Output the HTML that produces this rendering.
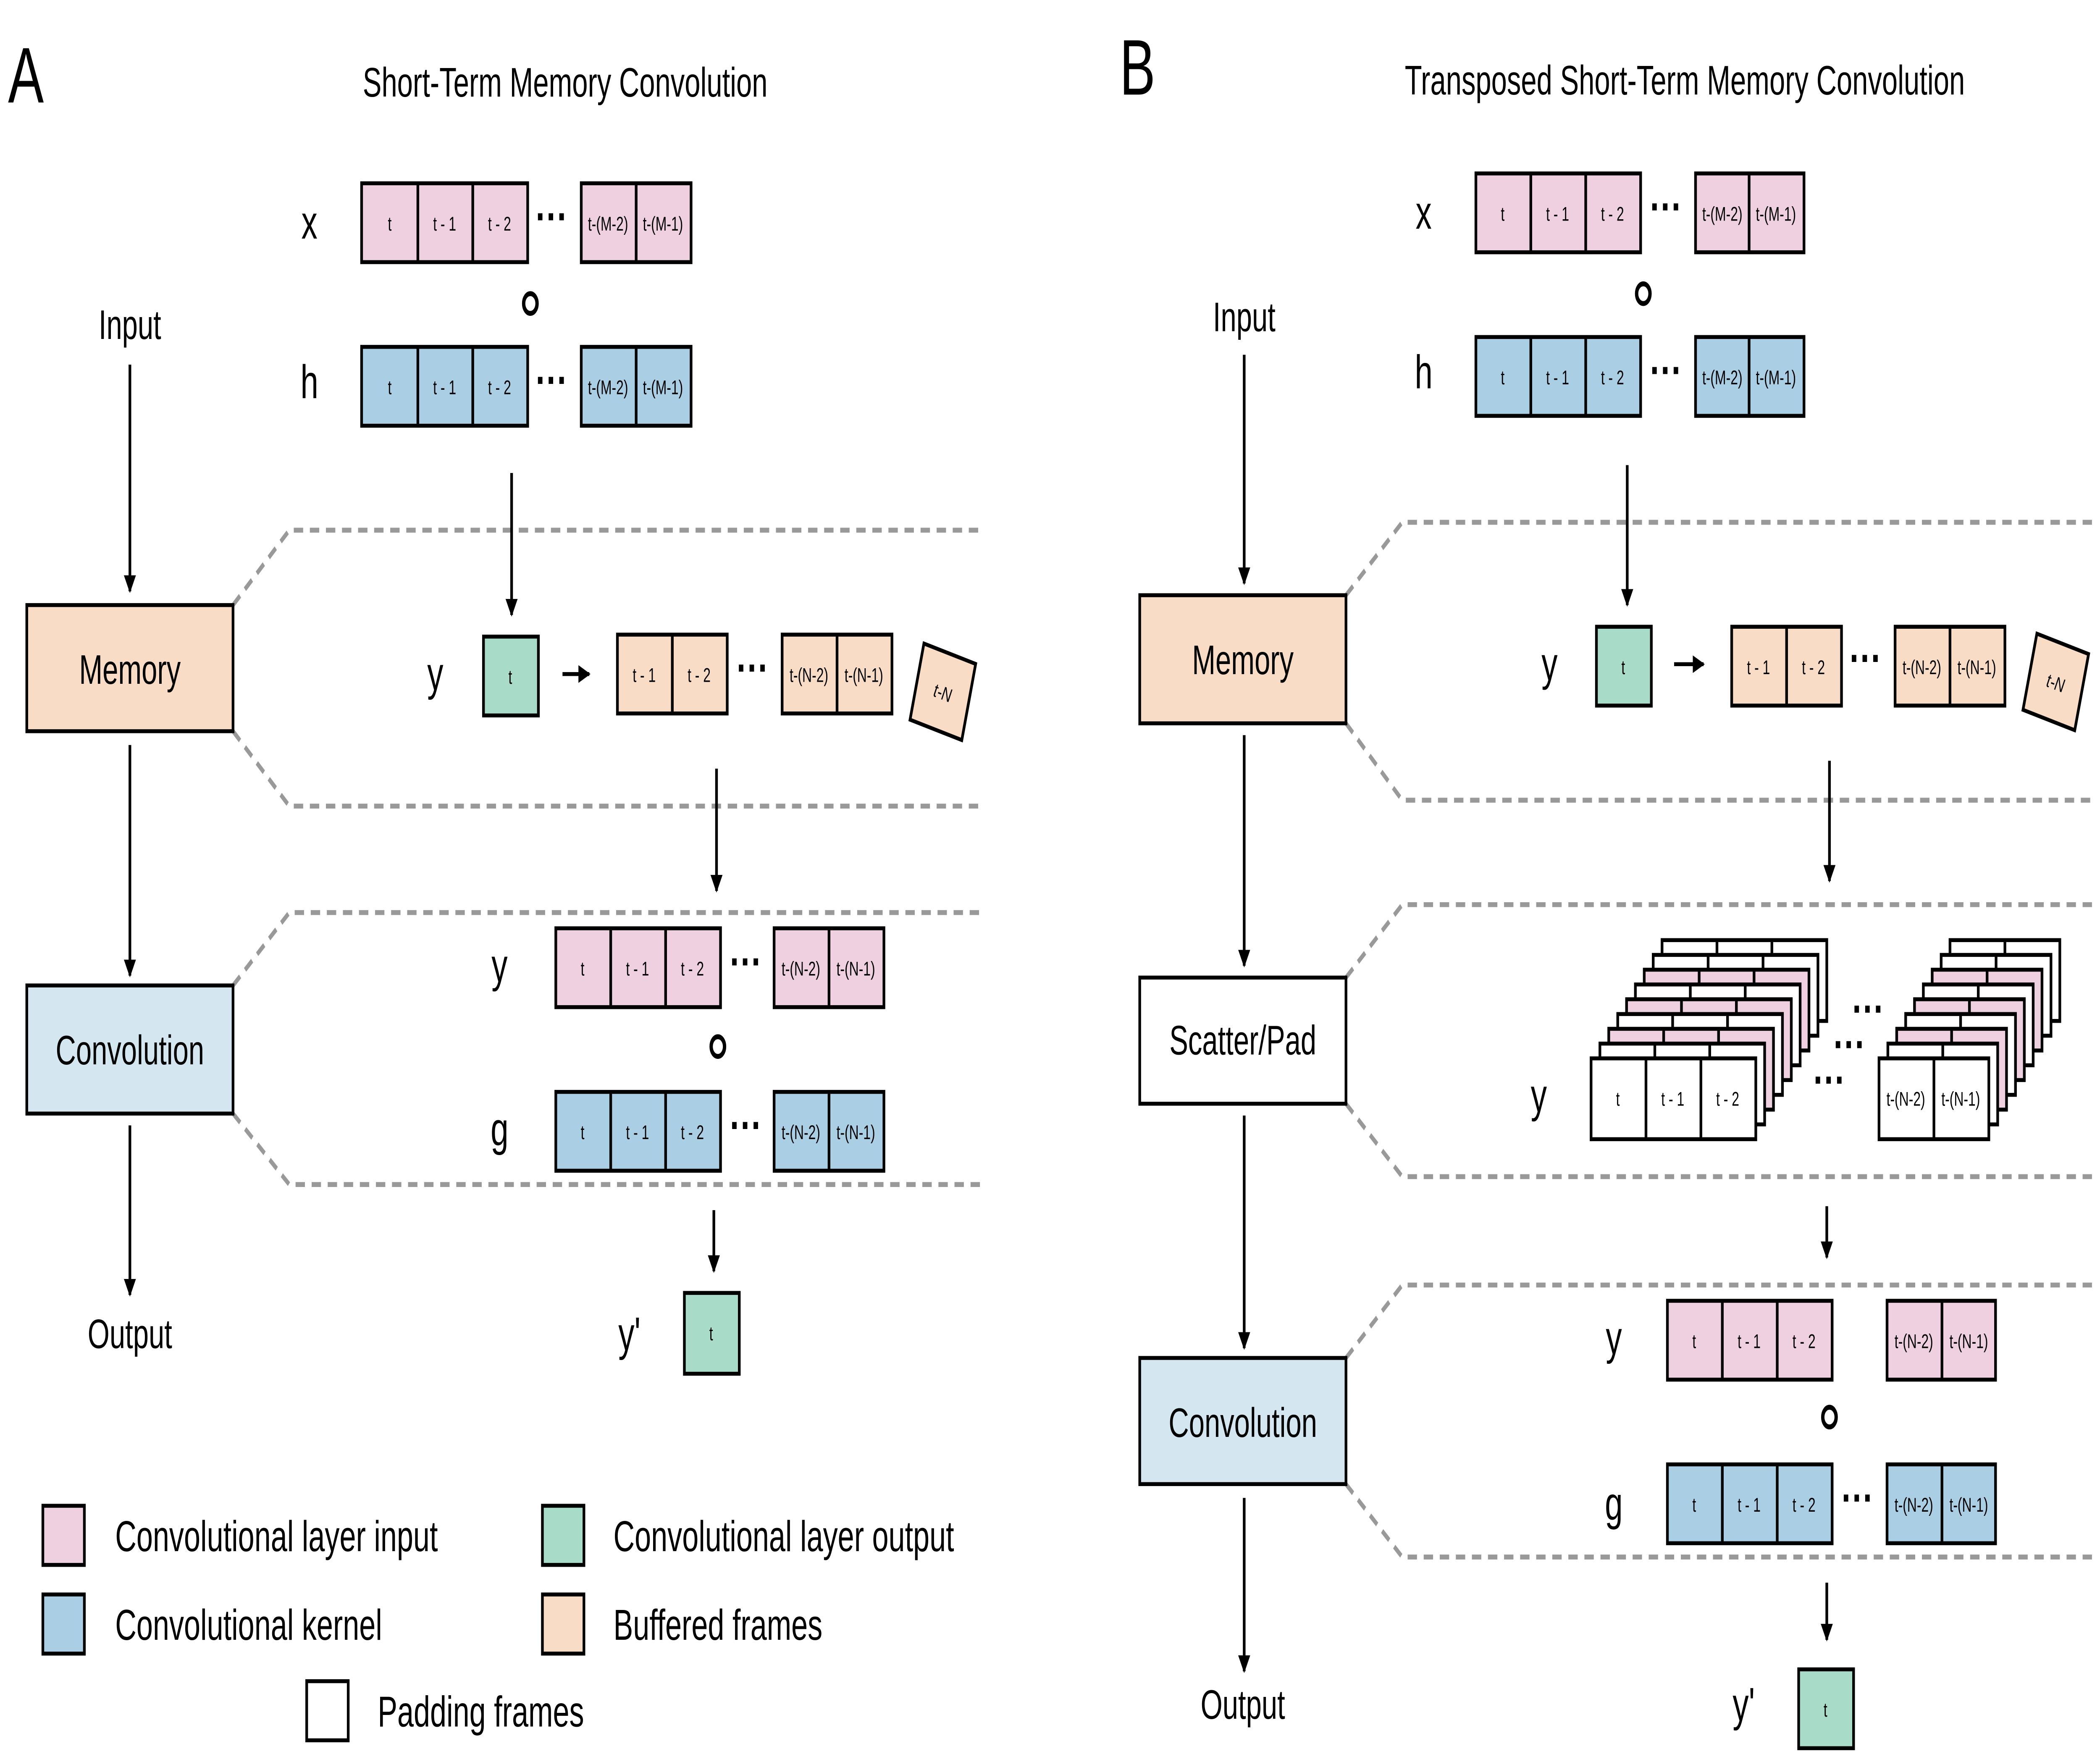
<!DOCTYPE html>
<html><head><meta charset="utf-8"><style>html,body{margin:0;padding:0;background:#fff;overflow:hidden;width:100vw;height:100vh}svg{display:block;width:100vw;height:100vh}</style></head>
<body>
<svg xmlns="http://www.w3.org/2000/svg" viewBox="0 0 1568 894" preserveAspectRatio="none" font-family="Liberation Sans, sans-serif">
<defs>
<marker id="ah" viewBox="0 0 10 10" refX="9" refY="5" markerWidth="4.5" markerHeight="4.5" orient="auto"><path d="M0,0L10,5L0,10z" fill="#000"/></marker>
<g id="L3w"><rect x="0" y="0" width="123" height="41" fill="#fff" stroke="#000" stroke-width="2"/><line x1="41" y1="0" x2="41" y2="41" stroke="#000" stroke-width="2"/><line x1="82" y1="0" x2="82" y2="41" stroke="#000" stroke-width="2"/></g>
<g id="L3p"><rect x="0" y="0" width="123" height="41" fill="#efd0e0" stroke="#000" stroke-width="2"/><line x1="41" y1="0" x2="41" y2="41" stroke="#000" stroke-width="2"/><line x1="82" y1="0" x2="82" y2="41" stroke="#000" stroke-width="2"/></g>
<g id="L2w"><rect x="0" y="0" width="82" height="41" fill="#fff" stroke="#000" stroke-width="2"/><line x1="41" y1="0" x2="41" y2="41" stroke="#000" stroke-width="2"/></g>
<g id="L2p"><rect x="0" y="0" width="82" height="41" fill="#efd0e0" stroke="#000" stroke-width="2"/><line x1="41" y1="0" x2="41" y2="41" stroke="#000" stroke-width="2"/></g>
</defs>
<rect width="1568" height="894" fill="#fff"/>

<g stroke="#999" stroke-width="2.5" stroke-dasharray="7,5" fill="none">
<polyline points="174,307 216,269 735,269"/><polyline points="174,371 216,409 735,409"/>
<polyline points="174,500 216,463 735,463"/><polyline points="174,565 216,601 735,601"/>
<polyline points="1005,302 1047,265 1562,265"/><polyline points="1005,367 1047,406 1562,406"/>
<polyline points="1005,496 1047,459 1562,459"/><polyline points="1005,560 1047,597 1562,597"/>
<polyline points="1005,689 1047,652 1562,652"/><polyline points="1005,753 1047,790 1562,790"/>
</g>

<g stroke="#000" stroke-width="2" marker-end="url(#ah)">
<line x1="97" y1="185" x2="97" y2="300"/><line x1="97" y1="378" x2="97" y2="495"/><line x1="97" y1="571" x2="97" y2="657"/>
<line x1="382" y1="240" x2="382" y2="312"/><line x1="420" y1="342" x2="440" y2="342"/>
<line x1="535" y1="390" x2="535" y2="452"/><line x1="533" y1="614" x2="533" y2="645"/>
<line x1="929" y1="180" x2="929" y2="296"/><line x1="929" y1="373" x2="929" y2="490"/><line x1="929" y1="566" x2="929" y2="684"/><line x1="929" y1="760" x2="929" y2="848"/>
<line x1="1215" y1="236" x2="1215" y2="307"/><line x1="1250" y1="337" x2="1272" y2="337"/>
<line x1="1366" y1="386" x2="1366" y2="447"/><line x1="1364" y1="612" x2="1364" y2="638"/><line x1="1364" y1="803" x2="1364" y2="832"/>
</g>

<g font-size="40"><text x="6" y="52">A</text><text x="836" y="48">B</text></g>
<g font-size="21" text-anchor="middle">
<text x="422" y="49">Short-Term Memory Convolution</text>
<text x="1258" y="48">Transposed Short-Term Memory Convolution</text>
<text x="97" y="172">Input</text><text x="97" y="684">Output</text>
<text x="929" y="168">Input</text><text x="928" y="872">Output</text>
</g>

<g stroke="#000" stroke-width="2">
<rect x="20" y="307" width="154" height="64" fill="#f8dcc6"/>
<rect x="20" y="500" width="154" height="65" fill="#d4e7f1"/>
<rect x="851" y="302" width="154" height="65" fill="#f8dcc6"/>
<rect x="851" y="496" width="154" height="64" fill="#fff"/>
<rect x="851" y="689" width="154" height="64" fill="#d4e7f1"/>
</g>
<g font-size="21" text-anchor="middle">
<text x="97" y="347">Memory</text><text x="97" y="540">Convolution</text>
<text x="928" y="342">Memory</text><text x="928" y="535">Scatter/Pad</text><text x="928" y="729">Convolution</text>
</g>

<g font-size="24" text-anchor="middle">
<text x="231" y="121">x</text><text x="231" y="202">h</text><text x="325" y="350">y</text>
<text x="373" y="498">y</text><text x="373" y="581">g</text><text x="470" y="685">y'</text>
<text x="1063" y="116">x</text><text x="1063" y="197">h</text><text x="1157" y="345">y</text>
<text x="1149" y="564">y</text><text x="1205" y="687">y</text><text x="1205" y="771">g</text><text x="1302" y="873">y'</text>
</g>

<g stroke="#000" stroke-width="2.5" fill="none">
<circle cx="396" cy="154" r="5"/><circle cx="536" cy="531" r="5"/>
<circle cx="1227" cy="149" r="5"/><circle cx="1366" cy="719" r="5"/>
</g>

<g font-size="24" font-weight="bold" text-anchor="middle">
<text x="412" y="118">···</text><text x="412" y="201">···</text><text x="562" y="347">···</text>
<text x="557" y="496">···</text><text x="557" y="579">···</text>
<text x="1244" y="113">···</text><text x="1244" y="196">···</text><text x="1393" y="342">···</text>
<text x="1387" y="768">···</text>
<text x="1395" y="520">···</text><text x="1381" y="538">···</text><text x="1366" y="556">···</text>
</g>

<g stroke="#000" stroke-width="2">
<rect x="270" y="93" width="124" height="40" fill="#efd0e0"/><line x1="312" y1="93" x2="312" y2="133"/><line x1="353" y1="93" x2="353" y2="133"/>
<rect x="434" y="93" width="82" height="40" fill="#efd0e0"/><line x1="475" y1="93" x2="475" y2="133"/>
<rect x="270" y="176" width="124" height="40" fill="#aacfe5"/><line x1="312" y1="176" x2="312" y2="216"/><line x1="353" y1="176" x2="353" y2="216"/>
<rect x="434" y="176" width="82" height="40" fill="#aacfe5"/><line x1="475" y1="176" x2="475" y2="216"/>
<rect x="361" y="323" width="41" height="40" fill="#a8dcc8"/>
<rect x="461" y="322" width="82" height="40" fill="#f8dcc6"/><line x1="502" y1="322" x2="502" y2="362"/>
<rect x="584" y="322" width="82" height="40" fill="#f8dcc6"/><line x1="625" y1="322" x2="625" y2="362"/>
<rect x="684" y="331" width="40" height="40" fill="#f8dcc6" transform="rotate(15 704 351)"/>
<rect x="415" y="471" width="123" height="40" fill="#efd0e0"/><line x1="456" y1="471" x2="456" y2="511"/><line x1="497" y1="471" x2="497" y2="511"/>
<rect x="578" y="471" width="82" height="40" fill="#efd0e0"/><line x1="619" y1="471" x2="619" y2="511"/>
<rect x="415" y="554" width="123" height="40" fill="#aacfe5"/><line x1="456" y1="554" x2="456" y2="594"/><line x1="497" y1="554" x2="497" y2="594"/>
<rect x="578" y="554" width="82" height="40" fill="#aacfe5"/><line x1="619" y1="554" x2="619" y2="594"/>
<rect x="511" y="656" width="41" height="41" fill="#a8dcc8"/>
<rect x="1102" y="88" width="123" height="40" fill="#efd0e0"/><line x1="1143" y1="88" x2="1143" y2="128"/><line x1="1184" y1="88" x2="1184" y2="128"/>
<rect x="1266" y="88" width="81" height="40" fill="#efd0e0"/><line x1="1306" y1="88" x2="1306" y2="128"/>
<rect x="1102" y="171" width="123" height="40" fill="#aacfe5"/><line x1="1143" y1="171" x2="1143" y2="211"/><line x1="1184" y1="171" x2="1184" y2="211"/>
<rect x="1266" y="171" width="81" height="40" fill="#aacfe5"/><line x1="1306" y1="171" x2="1306" y2="211"/>
<rect x="1192" y="318" width="41" height="40" fill="#a8dcc8"/>
<rect x="1293" y="318" width="82" height="40" fill="#f8dcc6"/><line x1="1334" y1="318" x2="1334" y2="358"/>
<rect x="1415" y="318" width="82" height="40" fill="#f8dcc6"/><line x1="1456" y1="318" x2="1456" y2="358"/>
<rect x="1515" y="326" width="40" height="40" fill="#f8dcc6" transform="rotate(15 1535 346)"/>
<rect x="1245" y="660" width="123" height="40" fill="#efd0e0"/><line x1="1286" y1="660" x2="1286" y2="700"/><line x1="1327" y1="660" x2="1327" y2="700"/>
<rect x="1409" y="660" width="81" height="40" fill="#efd0e0"/><line x1="1450" y1="660" x2="1450" y2="700"/>
<rect x="1245" y="743" width="123" height="40" fill="#aacfe5"/><line x1="1286" y1="743" x2="1286" y2="783"/><line x1="1327" y1="743" x2="1327" y2="783"/>
<rect x="1409" y="743" width="81" height="40" fill="#aacfe5"/><line x1="1450" y1="743" x2="1450" y2="783"/>
<rect x="1343" y="847" width="41" height="40" fill="#a8dcc8"/>
<rect x="32" y="764" width="31" height="30" fill="#efd0e0"/>
<rect x="32" y="809" width="31" height="30" fill="#aacfe5"/>
<rect x="405" y="764" width="31" height="30" fill="#a8dcc8"/>
<rect x="405" y="809" width="31" height="30" fill="#f8dcc6"/>
<rect x="229" y="853" width="31" height="30" fill="#fff"/>
</g>

<use href="#L3w" x="1241" y="477"/><use href="#L3w" x="1234.4" y="484.5"/><use href="#L3p" x="1227.7" y="492"/><use href="#L3w" x="1221.1" y="499.5"/>
<use href="#L3p" x="1214.5" y="507"/><use href="#L3w" x="1207.9" y="514.5"/><use href="#L3p" x="1201.2" y="522"/><use href="#L3w" x="1194.6" y="529.5"/><use href="#L3w" x="1188" y="537"/>
<use href="#L2w" x="1456" y="477"/><use href="#L2w" x="1449.4" y="484.5"/><use href="#L2p" x="1442.7" y="492"/><use href="#L2w" x="1436.1" y="499.5"/>
<use href="#L2p" x="1429.5" y="507"/><use href="#L2w" x="1422.9" y="514.5"/><use href="#L2p" x="1416.2" y="522"/><use href="#L2w" x="1409.6" y="529.5"/><use href="#L2w" x="1403" y="537"/>

<g font-size="10" text-anchor="middle">
<text x="291" y="117">t</text><text x="332" y="117">t - 1</text><text x="373" y="117">t - 2</text><text x="454" y="117">t-(M-2)</text><text x="495" y="117">t-(M-1)</text>
<text x="291" y="200">t</text><text x="332" y="200">t - 1</text><text x="373" y="200">t - 2</text><text x="454" y="200">t-(M-2)</text><text x="495" y="200">t-(M-1)</text>
<text x="381" y="347">t</text><text x="481" y="346">t - 1</text><text x="522" y="346">t - 2</text><text x="604" y="346">t-(N-2)</text><text x="645" y="346">t-(N-1)</text>
<text x="435" y="495">t</text><text x="476" y="495">t - 1</text><text x="517" y="495">t - 2</text><text x="598" y="495">t-(N-2)</text><text x="639" y="495">t-(N-1)</text>
<text x="435" y="578">t</text><text x="476" y="578">t - 1</text><text x="517" y="578">t - 2</text><text x="598" y="578">t-(N-2)</text><text x="639" y="578">t-(N-1)</text>
<text x="531" y="680">t</text>
<text x="1122" y="112">t</text><text x="1163" y="112">t - 1</text><text x="1204" y="112">t - 2</text><text x="1286" y="112">t-(M-2)</text><text x="1326" y="112">t-(M-1)</text>
<text x="1122" y="195">t</text><text x="1163" y="195">t - 1</text><text x="1204" y="195">t - 2</text><text x="1286" y="195">t-(M-2)</text><text x="1326" y="195">t-(M-1)</text>
<text x="1212" y="342">t</text><text x="1313" y="342">t - 1</text><text x="1354" y="342">t - 2</text><text x="1435" y="342">t-(N-2)</text><text x="1476" y="342">t-(N-1)</text>
<text x="1208" y="561">t</text><text x="1249" y="561">t - 1</text><text x="1290" y="561">t - 2</text><text x="1423" y="561">t-(N-2)</text><text x="1464" y="561">t-(N-1)</text>
<text x="1265" y="684">t</text><text x="1306" y="684">t - 1</text><text x="1347" y="684">t - 2</text><text x="1429" y="684">t-(N-2)</text><text x="1470" y="684">t-(N-1)</text>
<text x="1265" y="767">t</text><text x="1306" y="767">t - 1</text><text x="1347" y="767">t - 2</text><text x="1429" y="767">t-(N-2)</text><text x="1470" y="767">t-(N-1)</text>
<text x="1363" y="871">t</text>
<text x="704" y="355" font-style="italic" transform="rotate(15 704 351)">t-N</text>
<text x="1535" y="350" font-style="italic" transform="rotate(15 1535 346)">t-N</text>
</g>

<g font-size="22">
<text x="86" y="787">Convolutional layer input</text>
<text x="86" y="832">Convolutional kernel</text>
<text x="458" y="787">Convolutional layer output</text>
<text x="458" y="832">Buffered frames</text>
<text x="282" y="876">Padding frames</text>
</g>
</svg>
</body></html>
